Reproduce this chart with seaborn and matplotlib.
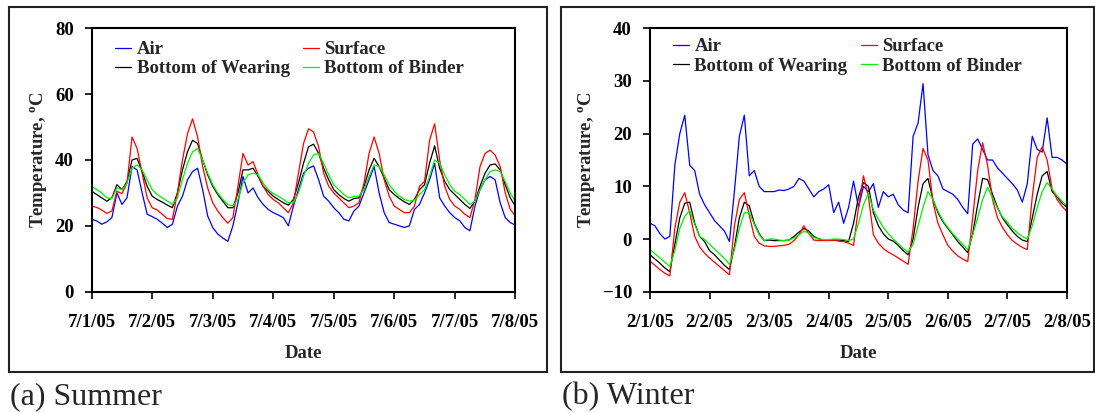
import numpy as np
import pandas as pd
import matplotlib
matplotlib.use("Agg")
import matplotlib.pyplot as plt
import seaborn as sns

# ---- data: pavement temperatures, sampled every 2 hours over one week ----
hours = list(range(0, 169, 2))

summer_air = [22, 21.5, 20.5, 21.2, 22.5, 30, 26.5, 28.5, 38, 37, 30, 23.5,
              22.8, 22, 20.8, 19.5, 20.5, 26, 29, 34, 36.5, 37.5, 31, 23,
              19.5, 17.5, 16.3, 15.3, 20, 27, 35, 30, 31.5, 28.5, 26.5, 25,
              24, 23.3, 22.5, 20, 26, 31, 36, 37.5, 38.2, 34, 29, 27.5,
              25.5, 24, 22, 21.5, 24.5, 26, 30, 34, 38, 30, 24, 21,
              20.5, 20, 19.5, 20, 25, 26.5, 30, 34, 39, 28.5, 26, 24,
              22.5, 21.5, 19.5, 18.5, 26, 31, 34, 35, 34, 27, 22.5, 21,
              20.2]
summer_surface = [26, 25.6, 24.8, 23.8, 24.5, 30.5, 29.8, 33, 47, 43.5, 36, 28.5,
                  25.5, 24.8, 23.5, 22.2, 22, 30, 40, 48, 52.5, 47, 38, 31.5,
                  27, 24.5, 22.5, 20.8, 22.5, 32, 42, 38.5, 39.5, 35.5, 32, 29.5,
                  28, 27, 25.5, 24, 27, 36, 45, 49.5, 48.5, 44, 36, 32,
                  30, 28.5, 27, 25.5, 26, 27, 33, 42, 47, 42, 34, 29,
                  26, 25, 24, 24, 26, 32, 33.5, 46, 51, 40, 32, 28,
                  26, 25, 23.5, 22.5, 28, 38, 42, 43, 41.5, 38, 30, 25,
                  23]
summer_wearing = [30.5, 29.5, 28.5, 27.5, 28.5, 32.5, 31, 33.5, 40, 40.5, 36.5, 32,
                  29, 28, 27.2, 26.3, 25.5, 30, 37, 42.5, 46, 45, 40, 35.5,
                  32, 29.5, 27.5, 25.5, 25.5, 30, 37, 37, 37.5, 35, 32, 30.5,
                  29, 28, 27, 26.3, 28, 33, 39, 44, 44.8, 42, 37.5, 34,
                  31, 29.5, 28.3, 27.5, 28.3, 28.5, 32, 37, 40.5, 38, 34.5, 31,
                  29.5, 28.3, 27.3, 26.5, 28, 31, 32.5, 39, 44.3, 37.5, 33.5, 31,
                  29.5, 28, 26.5, 25.3, 27.5, 32, 36, 38.5, 38.8, 37, 32.5, 28.5,
                  26]
summer_binder = [32, 31, 30, 28.5, 28.3, 31.5, 31, 33, 37.5, 38.5, 37, 34,
                 31, 29.5, 28.5, 27.5, 26.5, 28.5, 34, 39, 42.5, 43.5, 40, 36,
                 32.5, 30, 28, 26.5, 26, 28, 33, 35.5, 36, 35.5, 33, 31,
                 29.8, 29, 28, 27, 27, 30, 35, 39, 41.5, 42, 39, 35.5,
                 32.5, 31, 29.5, 28.5, 29, 29, 31, 35, 38.5, 38, 35.5, 32.5,
                 30.5, 29, 28, 27.5, 27.8, 29.5, 31, 35, 40, 39, 35.5, 32.5,
                 30.5, 29.5, 28, 26.5, 27.5, 31, 34, 36.5, 37, 36.5, 33.5, 30,
                 27.5]

winter_air = [3, 2.5, 1, 0, 0.5, 14, 20, 23.5, 14, 13, 8.5, 6.5,
              5, 3.5, 2.5, 1.5, -0.5, 9, 19.5, 23.5, 12, 13, 10, 9,
              9, 9, 9.3, 9.2, 9.5, 10, 11.5, 11, 9.5, 8, 9, 9.5,
              10.3, 5, 7, 3, 6, 11, 6, 10, 9, 10.5, 6, 9,
              8, 8.5, 6.5, 5.5, 5, 19.5, 22, 29.5, 16, 13, 12, 9.5,
              9, 8.5, 7.5, 6, 4.8, 18, 19, 17, 15, 15, 13.5, 12.5,
              11.5, 10.5, 9.3, 7, 10.5, 19.5, 17, 16.5, 23, 15.5, 15.5, 15,
              14.2]
winter_surface = [-4.2, -5, -5.8, -6.5, -7, 2, 7, 8.8, 5, 0.5, -1.5, -2.7,
                  -3.6, -4.4, -5.2, -6, -6.8, 2.5, 7.5, 8.8, 4.5, 0.5, -0.8, -1.3,
                  -1.4, -1.4, -1.3, -1.2, -1.0, -0.3, 0.8, 2.5, 1, -0.2, -0.3, -0.3,
                  -0.3, -0.2, -0.4, -0.5, -0.8, -1.2, 6, 12, 8, 0.8, -0.8, -1.8,
                  -2.5, -3, -3.6, -4.2, -4.8, 2, 11, 17.2, 15, 7, 3, 0.8,
                  -1.2, -2.3, -3.2, -3.8, -4.3, 4, 13, 18.3, 14, 7.5, 4, 2.2,
                  0.8, -0.3, -1, -1.6, -2, 8, 15.5, 17.5, 15, 9.5, 7.5, 6.2,
                  5.2]
winter_wearing = [-3, -3.8, -4.6, -5.5, -6.2, -1, 4, 6.8, 7, 3, 0.5, -0.5,
                  -2.2, -3, -4, -5, -5.8, -1.5, 4, 7, 6.3, 3, 1, -0.3,
                  -0.2, -0.3, -0.3, -0.3, -0.2, 0.5, 1.3, 2, 1.5, 0.5, 0, -0.2,
                  -0.2, -0.2, -0.2, -0.3, -0.5, 3, 8, 10.7, 10, 5, 2.5, 1,
                  0, -0.4, -1.2, -2.2, -3, 0, 6, 10.5, 11.5, 7.5, 5, 3.3,
                  2, 0.8, -0.5, -1.5, -2.6, 1, 6.5, 11.5, 11.3, 8.5, 6, 4,
                  2.7, 1.5, 0.5, -0.2, -0.5, 4, 8.5, 12, 12.8, 9, 8, 6.8,
                  6]
winter_binder = [-2, -2.8, -3.6, -4.4, -5.2, -2.2, 2, 4.3, 5.4, 2.8, 0.5, -0.1,
                 -1, -1.9, -2.8, -3.7, -4.8, -2, 2, 5, 5, 2.8, 0.8, -0.3,
                 0, 0, -0.2, -0.3, -0.2, 0.2, 0.8, 1.5, 1.1, 0.3, 0, -0.1,
                 -0.1, 0, 0, -0.1, -0.3, 0, 3, 6.5, 8.7, 5.5, 3.8, 2.2,
                 1, 0, -0.9, -1.8, -2.5, -1, 2.5, 6, 9, 7.5, 5.3, 3.5,
                 2.2, 1, 0, -1, -2, 0.8, 4, 7.5, 9.8, 7.8, 5.8, 4.2,
                 3.2, 2, 1.2, 0.5, 0, 2.5, 6, 9, 10.7, 9.5, 8.2, 7.2,
                 6.3]

series_names = ["Air", "Bottom of Wearing", "Surface", "Bottom of Binder"]
series_colors = {"Air": "#0000FF", "Surface": "#FF0000",
                 "Bottom of Wearing": "#000000", "Bottom of Binder": "#00F000"}

summer_dates = ["7/1/05", "7/2/05", "7/3/05", "7/4/05", "7/5/05", "7/6/05", "7/7/05", "7/8/05"]
winter_dates = ["2/1/05", "2/2/05", "2/3/05", "2/4/05", "2/5/05", "2/6/05", "2/7/05", "2/8/05"]
summer_yticks = [0, 20, 40, 60, 80]
winter_yticks = [-10, 0, 10, 20, 30, 40]


def long_frame(air, surface, wearing, binder):
    day = np.array(hours) / 24.0
    parts = []
    for name, vals in (("Air", air), ("Bottom of Wearing", wearing),
                       ("Surface", surface), ("Bottom of Binder", binder)):
        parts.append(pd.DataFrame({"day": day, "temp": vals, "series": name}))
    return pd.concat(parts, ignore_index=True)


summer_df = long_frame(summer_air, summer_surface, summer_wearing, summer_binder)
winter_df = long_frame(winter_air, winter_surface, winter_wearing, winter_binder)

# ---- styling ----
sns.set_style("ticks")
plt.rcParams["font.family"] = ["Liberation Serif", "DejaVu Serif"]
plt.rcParams["font.weight"] = "bold"
plt.rcParams["axes.labelweight"] = "bold"
plt.rcParams["mathtext.fontset"] = "custom"
plt.rcParams["mathtext.rm"] = "Liberation Serif:bold"
plt.rcParams["mathtext.bf"] = "Liberation Serif:bold"
plt.rcParams["mathtext.it"] = "Liberation Serif:bold"

W, H = 1095, 413
fig = plt.figure(figsize=(W / 100, H / 100), dpi=100)
fig.patch.set_facecolor("white")


def px_axes(x0, x1, y0, y1):
    return fig.add_axes([x0 / W, 1 - y1 / H, (x1 - x0) / W, (y1 - y0) / H])


ax_s = px_axes(91.7, 515.3, 28.3, 291.7)
ax_w = px_axes(650.0, 1067.0, 28.3, 291.7)

FS = 13.5
panels = [
    (ax_s, summer_df, summer_dates, summer_yticks, (0, 80), (0.055, 0.952)),
    (ax_w, winter_df, winter_dates, winter_yticks, (-10, 40), (0.055, 0.962)),
]
for ax, df, dates, yticks, ylim, leg_anchor in panels:
    sns.lineplot(data=df, x="day", y="temp", hue="series", hue_order=series_names,
                 palette=series_colors, linewidth=0.9, ax=ax, legend=True)
    ax.set_xlim(0, 7)
    ax.set_ylim(*ylim)
    ax.set_xticks(range(8))
    ax.set_xticklabels(dates)
    ax.set_yticks(yticks)
    ax.set_xlabel("Date", fontsize=FS, fontweight="bold", labelpad=10)
    ax.set_ylabel(r"Temperature, $^{\mathrm{o}}$C", fontsize=FS, fontweight="bold", labelpad=4)
    ax.tick_params(axis="both", direction="out", length=5, width=1.2, color="black",
                   labelsize=FS, labelcolor="black")
    ax.tick_params(axis="x", pad=11)
    ax.tick_params(axis="y", pad=8)
    for lab in ax.get_xticklabels() + ax.get_yticklabels():
        lab.set_fontweight("bold")
    for sp in ax.spines.values():
        sp.set_visible(True)
        sp.set_linewidth(1.5)
        sp.set_color("black")
    handles, labels = ax.get_legend_handles_labels()
    ax.legend(handles, labels, ncol=2, loc="upper left", bbox_to_anchor=leg_anchor,
              frameon=False, handlelength=0.85, handletextpad=0.3,
              columnspacing=0.7, labelspacing=0.12, borderpad=0, borderaxespad=0,
              prop={"weight": "bold", "size": FS})

# ---- outer frames and panel captions ----
for x0, x1 in ((8.6, 546.7), (560.7, 1093.5)):
    fig.add_artist(plt.Rectangle((x0 / W, 1 - 372.3 / H), (x1 - x0) / W, (372.3 - 6.7) / H,
                                 transform=fig.transFigure, fill=False,
                                 linewidth=1.5, edgecolor="#222222"))
fig.text(10 / W, 1 - 404 / H, "(a) Summer", fontsize=23, fontweight="normal",
         va="baseline", ha="left")
fig.text(562 / W, 1 - 404 / H, "(b) Winter", fontsize=23, fontweight="normal",
         va="baseline", ha="left")

fig.savefig("out.png", dpi=100, facecolor="white")
